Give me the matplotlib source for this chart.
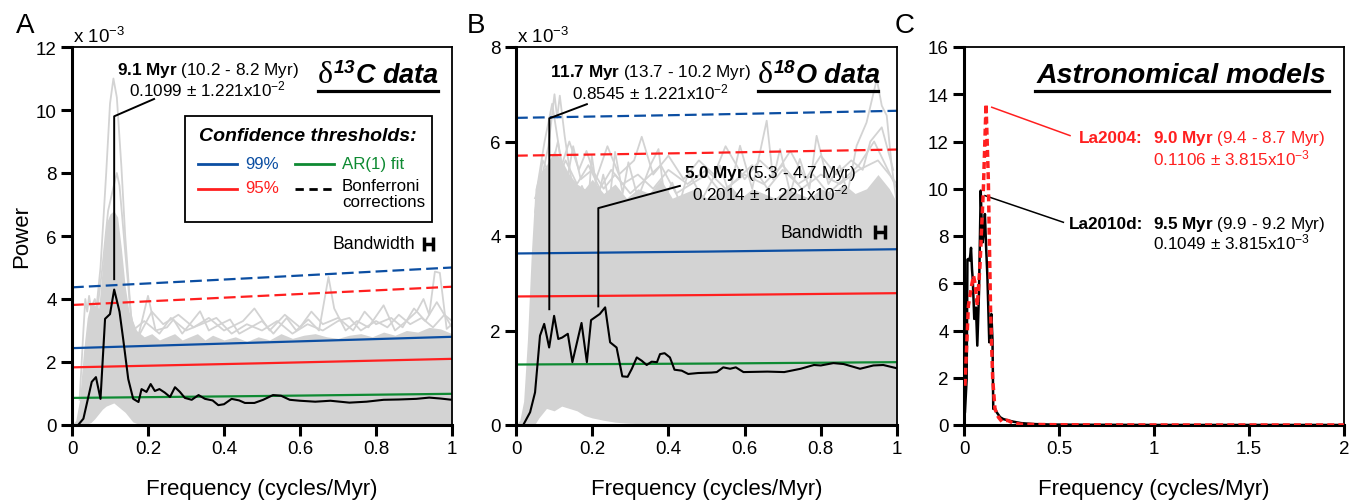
import matplotlib
matplotlib.use('Agg')
import matplotlib.pyplot as plt
from matplotlib.patches import Rectangle

plt.rcParams['font.family'] = ['Liberation Sans', 'DejaVu Sans']
plt.rcParams['mathtext.fontset'] = 'custom'
plt.rcParams['mathtext.rm'] = 'Liberation Sans'
plt.rcParams['mathtext.it'] = 'Liberation Sans:italic'
plt.rcParams['mathtext.bf'] = 'Liberation Sans:bold'
plt.rcParams['mathtext.bfit'] = 'Liberation Sans:italic:bold'

BLUE = '#0b4ea2'
RED = '#ff1f1f'
GREEN = '#0e8a32'
GRAY = '#d3d3d3'

# ---------------- panel A : d13C (power in 1e-3) ----------------
freq_a = [0.016, 0.03, 0.052, 0.063, 0.075, 0.087, 0.1, 0.111, 0.125, 0.135, 0.148, 0.161,
          0.175, 0.183, 0.196, 0.207, 0.218, 0.23, 0.244, 0.258, 0.271, 0.284, 0.297, 0.315,
          0.333, 0.35, 0.37, 0.385, 0.4, 0.42, 0.44, 0.455, 0.48, 0.503, 0.529, 0.55, 0.573,
          0.6, 0.64, 0.68, 0.73, 0.775, 0.82, 0.86, 0.906, 0.94, 0.97, 1.0]
pow_a = [0.0, 0.2, 1.37, 1.52, 0.83, 3.37, 3.52, 4.3, 3.6, 2.7, 1.46, 0.83,
         0.73, 1.14, 1.05, 1.3, 1.08, 1.14, 1.03, 0.89, 1.2, 1.05, 0.86, 0.8,
         0.95, 0.83, 0.78, 0.63, 0.66, 0.83, 0.78, 0.7, 0.7, 0.8, 0.95, 0.93, 0.8,
         0.77, 0.74, 0.77, 0.71, 0.74, 0.8, 0.81, 0.83, 0.87, 0.84, 0.8]

thr_f = [0.0, 0.5, 1.0]
a_99 = [2.44, 2.62, 2.8]
a_95 = [1.83, 1.96, 2.1]
a_ar1 = [0.86, 0.92, 0.99]
a_99b = [4.37, 4.68, 5.0]
a_95b = [3.81, 4.1, 4.39]

# Monte Carlo ensemble (grey): dense envelope + a few outlying traces
ens_a_f = [0, 0.01, 0.02, 0.03, 0.04, 0.05, 0.06, 0.07, 0.08, 0.09, 0.10, 0.11, 0.12, 0.13,
           0.14, 0.15, 0.16, 0.17, 0.19, 0.21, 0.23, 0.25, 0.27, 0.29, 0.31, 0.33, 0.35, 0.37,
           0.40, 0.43, 0.46, 0.49, 0.52, 0.55, 0.58, 0.61, 0.64, 0.67, 0.70, 0.73, 0.76, 0.79,
           0.82, 0.85, 0.88, 0.91, 0.94, 0.97, 1.0]
ens_a_hi = [0, 0.15, 0.8, 2.3, 3.4, 3.9, 3.8, 3.7, 5.0, 6.4, 6.7, 6.8, 6.6, 5.6,
            4.4, 3.6, 3.3, 3.0, 2.8, 2.9, 2.7, 2.8, 2.9, 2.7, 2.8, 2.9, 2.7, 2.85,
            2.7, 2.8, 2.65, 2.8, 2.7, 2.9, 2.75, 2.85, 2.9, 2.8, 2.75, 2.85, 2.9, 2.8,
            2.95, 2.85, 3.0, 2.95, 3.1, 3.05, 2.9]
ens_a_lo = [0, 0, 0, 0, 0.03, 0.08, 0.2, 0.35, 0.5, 0.6, 0.65, 0.7, 0.6, 0.5,
            0.4, 0.25, 0.1, 0.05, 0.03, 0.02, 0.02, 0.02, 0.02, 0.02, 0.02, 0.02, 0.02, 0.02,
            0.02, 0.02, 0.02, 0.02, 0.02, 0.02, 0.02, 0.02, 0.02, 0.02, 0.02, 0.02, 0.02, 0.02,
            0.02, 0.02, 0.02, 0.02, 0.02, 0.02, 0.02]
trace_a1_f = [0.06, 0.075, 0.09, 0.1, 0.109, 0.118, 0.13, 0.14, 0.155, 0.17]
trace_a1_p = [3.2, 5.0, 8.0, 10.2, 11.0, 10.4, 8.2, 6.0, 3.5, 2.5]
trace_a2_f = [0.06, 0.08, 0.095, 0.11, 0.118, 0.125, 0.14, 0.155, 0.17]
trace_a2_p = [3.0, 5.0, 6.8, 7.6, 8.0, 7.6, 5.5, 3.5, 2.5]
trace_a3_f = [0.17, 0.2, 0.22, 0.25, 0.267, 0.29, 0.31, 0.337, 0.36, 0.39, 0.416, 0.44, 0.47,
              0.5, 0.53, 0.565, 0.59, 0.622, 0.65, 0.675, 0.69, 0.72, 0.75, 0.78, 0.82, 0.85,
              0.88, 0.907, 0.925, 0.94, 0.955, 0.968, 0.986, 1.0]
trace_a3_p = [2.6, 4.1, 3.0, 3.1, 3.35, 2.9, 3.2, 3.61, 3.0, 3.2, 3.35, 2.9, 3.1,
              3.3, 2.9, 3.4, 3.0, 3.35, 3.0, 4.7, 3.7, 3.0, 3.3, 3.1, 3.8, 3.0,
              3.3, 3.6, 4.0, 3.5, 4.87, 4.83, 3.05, 3.2]
trace_a4_f = [0.17, 0.21, 0.24, 0.28, 0.32, 0.36, 0.4, 0.45, 0.48, 0.52, 0.56, 0.6, 0.63,
              0.66, 0.7, 0.74, 0.77, 0.8, 0.84, 0.87, 0.9, 0.93, 0.96, 1.0]
trace_a4_p = [2.7, 3.6, 3.2, 3.5, 3.1, 3.4, 3.0, 3.3, 3.7, 3.0, 3.5, 3.1, 3.6,
              3.2, 3.4, 3.0, 3.6, 3.2, 3.4, 3.1, 3.7, 3.3, 3.9, 3.1]
trace_a5_f = [0.16, 0.19, 0.23, 0.26, 0.3, 0.34, 0.38, 0.42, 0.46, 0.5, 0.54, 0.58, 0.62,
              0.66, 0.7, 0.73, 0.76, 0.8, 0.83, 0.86, 0.89, 0.92, 0.95, 0.98, 1.0]
trace_a5_p = [3.0, 3.3, 2.9, 3.4, 3.0, 3.2, 3.4, 2.9, 3.2, 3.0, 3.3, 2.9, 3.2,
              3.0, 3.3, 3.4, 3.0, 3.3, 3.1, 3.5, 3.2, 3.4, 3.1, 3.5, 3.3]
trace_a6_f = [0.02, 0.03, 0.035, 0.04, 0.045, 0.05, 0.06, 0.07]
trace_a6_p = [0.8, 3.0, 4.0, 3.6, 4.1, 3.7, 4.0, 3.6]

# ---------------- panel B : d18O (power in 1e-3) ----------------
freq_b = [0.019, 0.037, 0.05, 0.063, 0.074, 0.087, 0.1, 0.111, 0.121, 0.136, 0.148, 0.172,
          0.186, 0.197, 0.22, 0.234, 0.247, 0.264, 0.279, 0.293, 0.304, 0.317, 0.33, 0.343,
          0.356, 0.37, 0.378, 0.39, 0.404, 0.416, 0.435, 0.452, 0.478, 0.513, 0.527, 0.544,
          0.562, 0.577, 0.597, 0.66, 0.704, 0.747, 0.782, 0.8, 0.833, 0.86, 0.903, 0.938,
          0.964, 1.0]
pow_b = [0.0, 0.27, 0.69, 1.89, 2.14, 1.64, 2.31, 1.82, 1.85, 1.93, 1.33, 2.16,
         1.33, 2.22, 2.35, 2.49, 1.75, 1.64, 1.03, 1.02, 1.19, 1.43, 1.36, 1.27,
         1.34, 1.33, 1.5, 1.52, 1.43, 1.17, 1.15, 1.08, 1.1, 1.11, 1.12, 1.22,
         1.19, 1.22, 1.12, 1.13, 1.12, 1.19, 1.27, 1.26, 1.31, 1.29, 1.19, 1.26,
         1.27, 1.2]
b_99 = [3.63, 3.67, 3.72]
b_95 = [2.72, 2.75, 2.79]
b_ar1 = [1.28, 1.3, 1.33]
b_99b = [6.5, 6.57, 6.65]
b_95b = [5.7, 5.76, 5.83]

ens_b_f = [0, 0.01, 0.02, 0.03, 0.04, 0.05, 0.06, 0.08, 0.1, 0.12, 0.14, 0.16, 0.18, 0.2,
           0.23, 0.26, 0.29, 0.32, 0.35, 0.38, 0.41, 0.44, 0.47, 0.5, 0.53, 0.56, 0.59, 0.62,
           0.65, 0.68, 0.71, 0.74, 0.77, 0.8, 0.83, 0.86, 0.89, 0.92, 0.95, 0.98, 1.0]
ens_b_hi = [0, 0.1, 0.5, 1.8, 3.6, 5.0, 5.3, 5.5, 5.8, 5.6, 5.3, 5.1, 5.0, 5.2,
            4.9, 5.1, 4.8, 5.0, 4.9, 5.2, 4.8, 4.9, 5.0, 4.8, 4.9, 5.1, 4.8, 5.0,
            4.9, 4.8, 5.0, 4.9, 4.8, 5.0, 4.9, 5.1, 4.9, 5.0, 5.3, 5.0, 4.7]
ens_b_lo = [0, 0, 0, 0, 0, 0.02, 0.15, 0.35, 0.3, 0.4, 0.35, 0.3, 0.2, 0.15,
            0.1, 0.06, 0.04, 0.03, 0.03, 0.03, 0.03, 0.03, 0.03, 0.03, 0.03, 0.03, 0.03, 0.03,
            0.03, 0.03, 0.03, 0.03, 0.03, 0.03, 0.03, 0.03, 0.03, 0.03, 0.03, 0.03, 0.03]
trace_b1_f = [0.05, 0.067, 0.085, 0.101, 0.108, 0.115, 0.128, 0.142, 0.16, 0.173, 0.19, 0.199,
              0.215, 0.229, 0.245, 0.26, 0.28, 0.295, 0.32, 0.354, 0.374, 0.39, 0.41, 0.43,
              0.452, 0.49, 0.535, 0.56, 0.588, 0.62, 0.658, 0.675, 0.693, 0.72, 0.745, 0.77,
              0.789, 0.82, 0.85, 0.87, 0.894, 0.92, 0.947, 0.96, 0.973, 0.986, 1.0]
trace_b1_p = [4.0, 5.2, 5.9, 7.0, 6.5, 6.97, 6.1, 5.35, 4.6, 5.06, 4.7, 5.7,
              4.8, 5.3, 4.7, 5.78, 4.9, 5.56, 4.8, 5.52, 5.84, 4.8, 5.13, 4.7,
              5.35, 4.8, 5.49, 4.9, 5.91, 5.0, 6.44, 5.2, 5.84, 4.9, 5.63, 5.0,
              6.12, 5.1, 5.49, 4.9, 5.91, 6.4, 7.32, 6.76, 6.55, 5.49, 4.65]
trace_b2_f = [0.05, 0.07, 0.09, 0.11, 0.13, 0.15, 0.17, 0.2, 0.23, 0.26, 0.3, 0.34, 0.38,
              0.42, 0.46, 0.5, 0.54, 0.58, 0.62, 0.66, 0.7, 0.74, 0.78, 0.82, 0.86, 0.9,
              0.94, 0.97, 1.0]
trace_b2_p = [4.5, 5.6, 5.3, 6.0, 5.0, 5.9, 5.2, 5.4, 5.0, 5.3, 4.9, 5.2, 5.5,
              4.9, 5.1, 5.3, 4.9, 5.2, 5.5, 5.0, 5.4, 5.1, 5.3, 4.9, 5.2, 5.5,
              6.0, 5.5, 5.0]
trace_b3_f = [0.055, 0.075, 0.095, 0.12, 0.14, 0.165, 0.185, 0.21, 0.24, 0.27, 0.31, 0.33,
              0.36, 0.4, 0.44, 0.48, 0.52, 0.55, 0.6, 0.64, 0.68, 0.72, 0.76, 0.8, 0.84,
              0.88, 0.91, 0.93, 0.96, 0.99]
trace_b3_p = [5.0, 6.0, 6.8, 5.5, 6.0, 5.4, 5.8, 5.2, 5.9, 5.3, 5.6, 6.1,
              5.3, 5.7, 5.2, 5.6, 5.3, 5.9, 5.2, 5.6, 5.3, 5.8, 5.2, 5.7, 5.3,
              5.6, 5.4, 6.0, 6.3, 5.4]
trace_b4_f = [0.05, 0.08, 0.1, 0.13, 0.16, 0.19, 0.22, 0.25, 0.28, 0.32, 0.36, 0.4, 0.45,
              0.5, 0.55, 0.6, 0.65, 0.7, 0.75, 0.8, 0.85, 0.9, 0.95, 1.0]
trace_b4_p = [4.8, 5.4, 5.0, 5.6, 5.1, 5.5, 5.0, 5.4, 5.1, 5.3, 5.0, 5.4, 5.1,
              5.4, 5.0, 5.3, 5.1, 5.5, 5.0, 5.3, 5.1, 5.4, 5.6, 5.1]

# ---------------- panel C : astronomical models ----------------
freq_c_la10 = [0.0, 0.005, 0.014, 0.018, 0.023, 0.03, 0.037, 0.042, 0.046, 0.054, 0.063, 0.07,
               0.079, 0.088, 0.093, 0.098, 0.104, 0.11, 0.116, 0.123, 0.133, 0.139, 0.144,
               0.15, 0.154, 0.16, 0.172, 0.19, 0.207, 0.23, 0.26, 0.3, 0.365, 0.45, 0.6, 1.0,
               1.5, 2.0]
pow_c_la10 = [0.3, 0.54, 1.95, 7.0, 7.03, 6.96, 7.5, 6.6, 6.18, 4.49, 4.97, 3.36,
              5.62, 9.92, 8.6, 7.73, 8.2, 8.93, 7.6, 6.32, 3.5, 4.2, 4.7,
              3.6, 0.68, 0.75, 0.54, 0.33, 0.25, 0.2, 0.14, 0.08, 0.04, 0.02, 0.01, 0.0,
              0.0, 0.0]
freq_c_la04 = [0.005, 0.023, 0.04, 0.05, 0.058, 0.07, 0.084, 0.102, 0.116, 0.128, 0.14, 0.151,
               0.163, 0.181, 0.2, 0.228, 0.254, 0.3, 0.5, 1.0, 2.0]
pow_c_la04 = [1.66, 5.05, 5.9, 6.32, 6.0, 5.05, 6.74, 9.99, 13.59, 10.4, 4.77, 1.95,
              0.68, 0.33, 0.14, 0.2, 0.1, 0.03, 0.01, 0.0, 0.0]

bandwidth = 1.221e-2
TXT = 12.3

fig = plt.figure(figsize=(13.61, 5.02), dpi=100)
ax_a = fig.add_axes([72 / 1361, 76 / 502, 380 / 1361, 378 / 502])
ax_b = fig.add_axes([516 / 1361, 76 / 502, 381 / 1361, 378 / 502])
ax_c = fig.add_axes([964 / 1361, 76 / 502, 380 / 1361, 378 / 502])


def style_axis(ax):
    for side in ['left', 'bottom']:
        ax.spines[side].set_linewidth(2.2)
    for side in ['top', 'right']:
        ax.spines[side].set_linewidth(1.3)
    ax.tick_params(direction='out', length=8, width=2.2, labelsize=13.5, pad=3,
                   top=False, right=False)
    ax.set_xlabel('Frequency (cycles/Myr)', fontsize=16, labelpad=15)


def draw_spectrum(ax, ens_f, ens_lo, ens_hi, traces, freq, pw, thr):
    ax.fill_between(ens_f, ens_lo, ens_hi, color=GRAY, lw=0, zorder=1)
    for tf, tp in traces:
        ax.plot(tf, tp, color=GRAY, lw=1.3, zorder=1)
    t99, t95, tar, t99b, t95b = thr
    ax.plot(thr_f, t99b, color=BLUE, lw=1.6, dashes=(5.3, 2.3), zorder=2)
    ax.plot(thr_f, t95b, color=RED, lw=1.6, dashes=(5.3, 2.3), zorder=2)
    ax.plot(thr_f, t99, color=BLUE, lw=1.6, zorder=2)
    ax.plot(thr_f, t95, color=RED, lw=1.6, zorder=2)
    ax.plot(thr_f, tar, color=GREEN, lw=1.6, zorder=2)
    ax.plot(freq, pw, color='black', lw=1.5, zorder=3)
    ax.set_xlim(0, 1)
    ax.set_xticks([0, 0.2, 0.4, 0.6, 0.8, 1.0], ['0', '0.2', '0.4', '0.6', '0.8', '1'])


def isotope_title(ax, x, y, mass, rest, x1):
    # serif delta followed by bold-italic superscript and label
    d = ax.text(x, y, 'δ', transform=ax.transAxes, family='Liberation Serif',
                fontsize=23, va='baseline', ha='left')
    ax.annotate(r'$^{\mathbfit{' + mass + r'}}$' + rest, xy=(1, 0), xycoords=d,
                va='bottom', ha='left', fontsize=19.5, fontweight='bold', style='italic')
    ax.plot([x, x1], [0.884, 0.884], color='black', lw=2.3, transform=ax.transAxes,
            clip_on=False)


# ---- A ----
draw_spectrum(ax_a, ens_a_f, ens_a_lo, ens_a_hi,
              [(trace_a1_f, trace_a1_p), (trace_a2_f, trace_a2_p),
               (trace_a3_f, trace_a3_p), (trace_a4_f, trace_a4_p),
               (trace_a5_f, trace_a5_p), (trace_a6_f, trace_a6_p)],
              freq_a, pow_a, (a_99, a_95, a_ar1, a_99b, a_95b))
ax_a.set_ylim(0, 12)
ax_a.set_yticks(range(0, 13, 2))
style_axis(ax_a)
ax_a.set_ylabel('Power', fontsize=16, labelpad=3)
ax_a.text(0.003, 1.013, r'x 10$^{\mathregular{-3}}$', transform=ax_a.transAxes,
          fontsize=13.5, va='baseline')
isotope_title(ax_a, 0.647, 0.907, '13', 'C data', 0.963)
ax_a.plot([0.216, 0.111, 0.111], [10.35, 9.8, 4.63], color='black', lw=1.4, zorder=4)
ax_a.text(0.357, 11.3, r'$\mathbf{9.1\ Myr}$ (10.2 - 8.2 Myr)', ha='center', va='center',
          fontsize=TXT)
ax_a.text(0.357, 10.67, r'0.1099 ± 1.221x10$^{\mathregular{-2}}$', ha='center', va='center',
          fontsize=TXT)

# legend box drawn by hand
ax_a.add_patch(Rectangle((0.297, 0.538), 0.65, 0.28, transform=ax_a.transAxes,
                         facecolor='white', edgecolor='black', lw=1.3, zorder=5))
ax_a.text(0.621, 0.765, 'Confidence thresholds:', transform=ax_a.transAxes, ha='center',
          va='center', fontsize=14, fontweight='bold', style='italic', zorder=6)
legend_rows = [
    (0.332, 0.690, BLUE, '-', '99%'),
    (0.332, 0.624, RED, '-', '95%'),
    (0.587, 0.690, GREEN, '-', 'AR(1) fit'),
    (0.587, 0.624, 'black', '--', 'Bonferroni\ncorrections'),
]
for lx, ly, lc, ls, lab in legend_rows:
    kw = dict(dashes=(3, 2)) if ls == '--' else {}
    ax_a.plot([lx, lx + 0.102], [ly, ly], color=lc, lw=2, transform=ax_a.transAxes,
              zorder=6, **kw)
    multi = '\n' in lab
    ax_a.text(lx + 0.123, ly + (0.03 if multi else 0.003), lab, transform=ax_a.transAxes,
              ha='left', va='top' if multi else 'center', color=lc, fontsize=12.2, zorder=6,
              linespacing=1.1)

ax_a.text(0.903, 5.75, 'Bandwidth', ha='right', va='center', fontsize=12.7)
ax_a.errorbar([0.938], [5.75], xerr=[bandwidth], color='black', lw=2.5, capsize=5,
              capthick=2.5)

# ---- B ----
draw_spectrum(ax_b, ens_b_f, ens_b_lo, ens_b_hi,
              [(trace_b1_f, trace_b1_p), (trace_b2_f, trace_b2_p),
               (trace_b3_f, trace_b3_p), (trace_b4_f, trace_b4_p)],
              freq_b, pow_b, (b_99, b_95, b_ar1, b_99b, b_95b))
ax_b.set_ylim(0, 8)
ax_b.set_yticks(range(0, 9, 2))
style_axis(ax_b)
ax_b.text(0.003, 1.013, r'x 10$^{\mathregular{-3}}$', transform=ax_b.transAxes,
          fontsize=13.5, va='baseline')
isotope_title(ax_b, 0.635, 0.907, '18', 'O data', 0.95)
ax_b.plot([0.186, 0.0874, 0.0874], [6.79, 6.49, 2.45], color='black', lw=1.4, zorder=4)
ax_b.plot([0.43, 0.216, 0.216], [5.06, 4.59, 2.51], color='black', lw=1.4, zorder=4)
ax_b.text(0.352, 7.49, r'$\mathbf{11.7\ Myr}$ (13.7 - 10.2 Myr)', ha='center', va='center',
          fontsize=TXT)
ax_b.text(0.352, 7.05, r'0.8545 ± 1.221x10$^{\mathregular{-2}}$', ha='center', va='center',
          fontsize=TXT)
ax_b.text(0.667, 5.35, r'$\mathbf{5.0\ Myr}$ (5.3 - 4.7 Myr)', ha='center', va='center',
          fontsize=TXT)
ax_b.text(0.667, 4.93, r'0.2014 ± 1.221x10$^{\mathregular{-2}}$', ha='center', va='center',
          fontsize=TXT)
ax_b.text(0.911, 4.08, 'Bandwidth', ha='right', va='center', fontsize=12.7)
ax_b.errorbar([0.955], [4.08], xerr=[bandwidth], color='black', lw=2.5, capsize=5,
              capthick=2.5)

# ---- C ----
ax_c.plot(freq_c_la10, pow_c_la10, color='black', lw=1.8, zorder=3)
ax_c.plot(freq_c_la04, pow_c_la04, color=RED, lw=2.5, dashes=(2, 1.2), zorder=4)
ax_c.set_xlim(0, 2)
ax_c.set_ylim(0, 16)
ax_c.set_yticks(range(0, 17, 2))
ax_c.set_xticks([0, 0.5, 1, 1.5, 2], ['0', '0.5', '1', '1.5', '2'])
style_axis(ax_c)
ax_c.text(0.573, 0.907, 'Astronomical models', transform=ax_c.transAxes, ha='center',
          va='baseline', fontsize=20.5, fontweight='bold', style='italic')
ax_c.plot([0.187, 0.960], [0.884, 0.884], color='black', lw=2.3, transform=ax_c.transAxes,
          clip_on=False)
ax_c.plot([0.146, 0.558], [13.45, 12.25], color=RED, lw=1.1)
ax_c.plot([0.11, 0.523], [9.71, 8.58], color='black', lw=1.1)
ax_c.text(0.942, 12.19, 'La2004:', ha='right', va='center', fontsize=TXT, color=RED,
          fontweight='bold')
ax_c.text(0.995, 12.19, r'$\mathbf{9.0\ Myr}$ (9.4 - 8.7 Myr)', ha='left', va='center',
          fontsize=TXT, color=RED)
ax_c.text(0.995, 11.34, r'0.1106 ± 3.815x10$^{\mathregular{-3}}$', ha='left', va='center',
          fontsize=TXT, color=RED)
ax_c.text(0.942, 8.55, 'La2010d:', ha='right', va='center', fontsize=TXT, color='black',
          fontweight='bold')
ax_c.text(0.995, 8.55, r'$\mathbf{9.5\ Myr}$ (9.9 - 9.2 Myr)', ha='left', va='center',
          fontsize=TXT)
ax_c.text(0.995, 7.75, r'0.1049 ± 3.815x10$^{\mathregular{-3}}$', ha='left', va='center',
          fontsize=TXT)

for lab, px in [('A', 16), ('B', 467), ('C', 895)]:
    fig.text(px / 1361, 1 - 33 / 502, lab, fontsize=20, va='baseline')

fig.savefig('out.png', dpi=100)
plt.close(fig)
